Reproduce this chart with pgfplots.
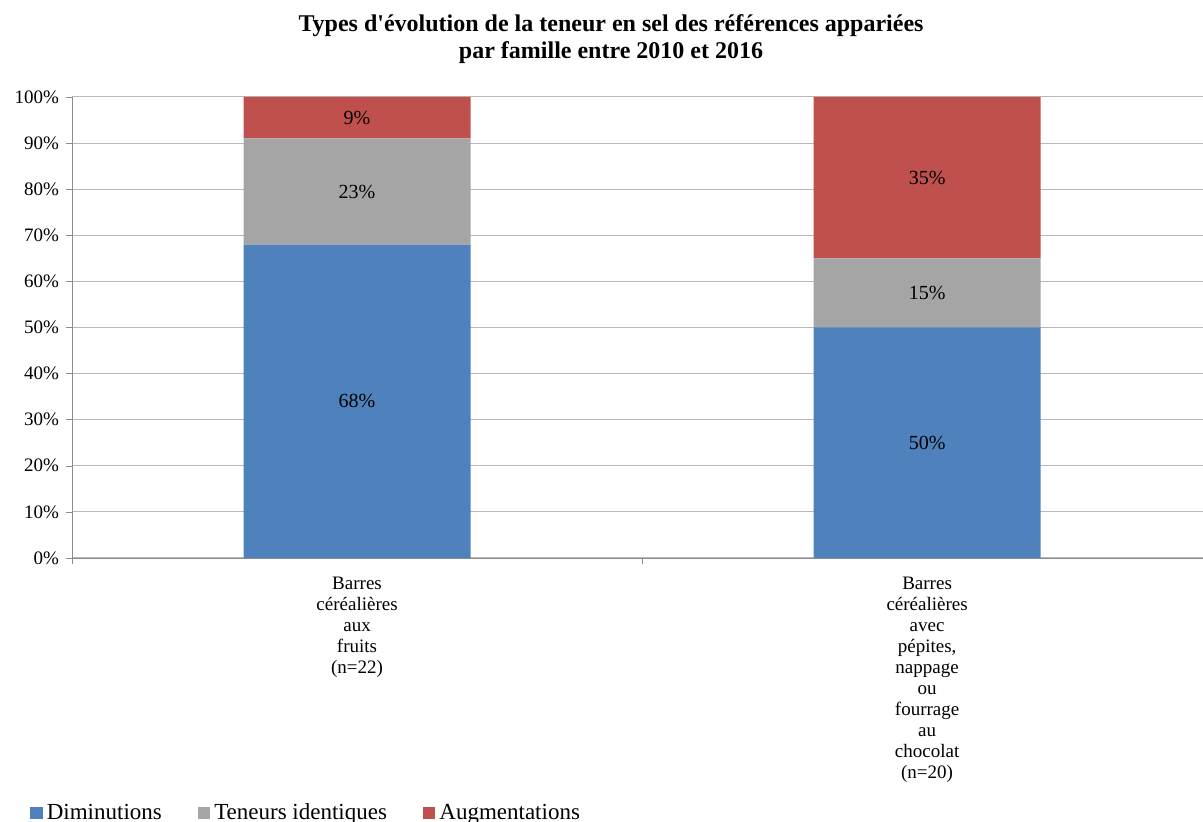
\documentclass[border=0pt]{standalone}
\usepackage{pgfplots}
\pgfplotsset{compat=1.18}
\usepackage{fontspec}
\setmainfont{Liberation Serif}

\definecolor{cblue}{HTML}{4F81BD}
\definecolor{cgrey}{HTML}{A5A5A5}
\definecolor{cred}{HTML}{C0504D}
\definecolor{axisgrey}{HTML}{8C8C8C}
\definecolor{gridgrey}{HTML}{B8B8B8}

\begin{document}
\begin{tikzpicture}
\begin{axis}[
    scale only axis,
    width=565.5pt, height=230.5pt,
    ybar stacked, bar width=113.5pt,
    xmin=-0.5, xmax=1.484, ymin=0, ymax=100,
    axis lines*=left,
    axis line style={draw=axisgrey, -},
    tick align=outside,
    major tick length=3pt, minor tick length=3pt,
    tick style={draw=axisgrey},
    xtick={0,1},
    minor xtick={-0.5,0.5,1.5},
    every major x tick/.append style={draw=none},
    xticklabels={{Barres\\céréalières\\aux\\fruits\\(n=22)},
                 {Barres\\céréalières\\avec\\pépites,\\nappage\\ou\\fourrage\\au\\chocolat\\(n=20)}},
    xticklabel style={align=center, font=\fontsize{9.5pt}{10.5pt}\selectfont, yshift=-3pt},
    ytick={0,10,...,100},
    yticklabel={\pgfmathprintnumber{\tick}\%},
    yticklabel style={font=\fontsize{9.5pt}{11pt}\selectfont},
    /pgf/number format/assume math mode=true,
    ymajorgrids,
    major grid style={draw=gridgrey, line width=0.5pt},
    title={Types d\textquotesingle évolution de la teneur en sel des références appariées\\par famille entre 2010 et 2016},
    title style={at={(axis description cs:0.4766,1.100)}, anchor=center, align=center,
                 font=\fontsize{12pt}{13.5pt}\selectfont\bfseries},
    point meta=rawy,
    nodes near coords={\pgfmathprintnumber{\pgfplotspointmeta}\%},
    every node near coord/.append style={font=\fontsize{10pt}{12pt}\selectfont, color=black,
        anchor=center},
    legend style={at={(axis description cs:-0.0371,-0.553)}, anchor=west, draw=none,
        inner sep=0pt, font=\fontsize{11.5pt}{13pt}\selectfont,
        /tikz/every even column/.append style={column sep=16pt}},
    legend columns=-1,
    legend cell align=left,
    legend image code/.code={\fill[#1] (0pt,-3.2pt) rectangle (6.2pt,3.2pt);},
]
\addplot[fill=cblue, draw=none] coordinates {(0,68) (1,50)};
\addlegendentry{Diminutions}
\addplot[fill=cgrey, draw=none] coordinates {(0,23) (1,15)};
\addlegendentry{Teneurs identiques}
\addplot[fill=cred, draw=none] coordinates {(0,9) (1,35)};
\addlegendentry{Augmentations}
\end{axis}
\pgfresetboundingbox
\useasboundingbox (-36pt,-132pt) rectangle (565.5pt,279pt);
\end{tikzpicture}
\end{document}
